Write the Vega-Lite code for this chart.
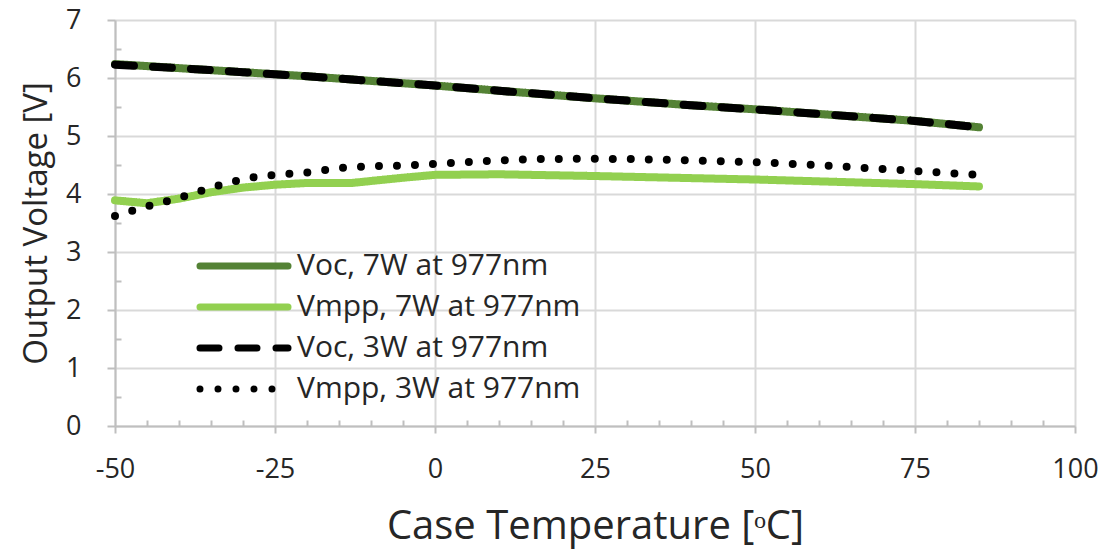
{
  "$schema": "https://vega.github.io/schema/vega-lite/v6.json",
  "width": 960,
  "height": 406,
  "autosize": {"type": "none"},
  "padding": {"left": 115, "top": 20, "right": 29, "bottom": 126},
  "background": "white",
  "config": {"view": {"stroke": null}, "font": "Open Sans"},
  "data": {
    "values": [
      {"series": "Voc, 7W at 977nm", "temp": -50, "v": 6.24},
      {"series": "Voc, 7W at 977nm", "temp": -40, "v": 6.17},
      {"series": "Voc, 7W at 977nm", "temp": -30, "v": 6.10},
      {"series": "Voc, 7W at 977nm", "temp": -20, "v": 6.03},
      {"series": "Voc, 7W at 977nm", "temp": -10, "v": 5.95},
      {"series": "Voc, 7W at 977nm", "temp": 0, "v": 5.87},
      {"series": "Voc, 7W at 977nm", "temp": 10, "v": 5.78},
      {"series": "Voc, 7W at 977nm", "temp": 25, "v": 5.65},
      {"series": "Voc, 7W at 977nm", "temp": 40, "v": 5.53},
      {"series": "Voc, 7W at 977nm", "temp": 50, "v": 5.46},
      {"series": "Voc, 7W at 977nm", "temp": 60, "v": 5.38},
      {"series": "Voc, 7W at 977nm", "temp": 75, "v": 5.26},
      {"series": "Voc, 7W at 977nm", "temp": 85, "v": 5.15},
      {"series": "Vmpp, 7W at 977nm", "temp": -50, "v": 3.89},
      {"series": "Vmpp, 7W at 977nm", "temp": -45, "v": 3.84},
      {"series": "Vmpp, 7W at 977nm", "temp": -40, "v": 3.92},
      {"series": "Vmpp, 7W at 977nm", "temp": -35, "v": 4.03},
      {"series": "Vmpp, 7W at 977nm", "temp": -30, "v": 4.11},
      {"series": "Vmpp, 7W at 977nm", "temp": -25, "v": 4.16},
      {"series": "Vmpp, 7W at 977nm", "temp": -20, "v": 4.19},
      {"series": "Vmpp, 7W at 977nm", "temp": -13, "v": 4.19},
      {"series": "Vmpp, 7W at 977nm", "temp": -5, "v": 4.28},
      {"series": "Vmpp, 7W at 977nm", "temp": 0, "v": 4.33},
      {"series": "Vmpp, 7W at 977nm", "temp": 10, "v": 4.34},
      {"series": "Vmpp, 7W at 977nm", "temp": 25, "v": 4.31},
      {"series": "Vmpp, 7W at 977nm", "temp": 50, "v": 4.25},
      {"series": "Vmpp, 7W at 977nm", "temp": 75, "v": 4.17},
      {"series": "Vmpp, 7W at 977nm", "temp": 85, "v": 4.13},
      {"series": "Voc, 3W at 977nm", "temp": -50, "v": 6.23},
      {"series": "Voc, 3W at 977nm", "temp": -40, "v": 6.17},
      {"series": "Voc, 3W at 977nm", "temp": -30, "v": 6.10},
      {"series": "Voc, 3W at 977nm", "temp": -20, "v": 6.03},
      {"series": "Voc, 3W at 977nm", "temp": -10, "v": 5.95},
      {"series": "Voc, 3W at 977nm", "temp": 0, "v": 5.87},
      {"series": "Voc, 3W at 977nm", "temp": 10, "v": 5.78},
      {"series": "Voc, 3W at 977nm", "temp": 25, "v": 5.65},
      {"series": "Voc, 3W at 977nm", "temp": 40, "v": 5.53},
      {"series": "Voc, 3W at 977nm", "temp": 50, "v": 5.46},
      {"series": "Voc, 3W at 977nm", "temp": 60, "v": 5.38},
      {"series": "Voc, 3W at 977nm", "temp": 75, "v": 5.26},
      {"series": "Voc, 3W at 977nm", "temp": 85, "v": 5.15},
      {"series": "Vmpp, 3W at 977nm", "temp": -50, "v": 3.62},
      {"series": "Vmpp, 3W at 977nm", "temp": -47, "v": 3.72},
      {"series": "Vmpp, 3W at 977nm", "temp": -44, "v": 3.82},
      {"series": "Vmpp, 3W at 977nm", "temp": -41, "v": 3.90},
      {"series": "Vmpp, 3W at 977nm", "temp": -38, "v": 4.00},
      {"series": "Vmpp, 3W at 977nm", "temp": -35, "v": 4.11},
      {"series": "Vmpp, 3W at 977nm", "temp": -32, "v": 4.20},
      {"series": "Vmpp, 3W at 977nm", "temp": -29, "v": 4.28},
      {"series": "Vmpp, 3W at 977nm", "temp": -26, "v": 4.32},
      {"series": "Vmpp, 3W at 977nm", "temp": -20, "v": 4.37},
      {"series": "Vmpp, 3W at 977nm", "temp": -15, "v": 4.45},
      {"series": "Vmpp, 3W at 977nm", "temp": -10, "v": 4.48},
      {"series": "Vmpp, 3W at 977nm", "temp": -5, "v": 4.49},
      {"series": "Vmpp, 3W at 977nm", "temp": 0, "v": 4.52},
      {"series": "Vmpp, 3W at 977nm", "temp": 5, "v": 4.55},
      {"series": "Vmpp, 3W at 977nm", "temp": 10, "v": 4.58},
      {"series": "Vmpp, 3W at 977nm", "temp": 15, "v": 4.60},
      {"series": "Vmpp, 3W at 977nm", "temp": 23, "v": 4.61},
      {"series": "Vmpp, 3W at 977nm", "temp": 32, "v": 4.60},
      {"series": "Vmpp, 3W at 977nm", "temp": 43, "v": 4.57},
      {"series": "Vmpp, 3W at 977nm", "temp": 52, "v": 4.54},
      {"series": "Vmpp, 3W at 977nm", "temp": 61, "v": 4.49},
      {"series": "Vmpp, 3W at 977nm", "temp": 70, "v": 4.43},
      {"series": "Vmpp, 3W at 977nm", "temp": 76, "v": 4.39},
      {"series": "Vmpp, 3W at 977nm", "temp": 85, "v": 4.33}
    ]
  },
  "mark": {"type": "line", "strokeWidth": 8, "strokeCap": "round", "strokeJoin": "round"},
  "encoding": {
    "x": {
      "field": "temp",
      "type": "quantitative",
      "scale": {"domain": [-50, 100], "nice": false, "zero": false},
      "axis": {
        "values": [-50, -45, -40, -35, -30, -25, -20, -15, -10, -5, 0, 5, 10, 15, 20, 25, 30, 35, 40, 45, 50, 55, 60, 65, 70, 75, 80, 85, 90, 95, 100],
        "labelExpr": "datum.value % 25 === 0 ? replace(datum.label, '\u2212', '-') : ''",
        "title": "Case Temperature [\u1d52C]",
        "titleFontSize": 40,
        "titleFontWeight": "normal",
        "titleColor": "#262626",
        "titlePadding": 24,
        "labelFontSize": 27,
        "labelColor": "#262626",
        "labelPadding": 23,
        "labelFlush": false,
        "domainColor": "#bfbfbf",
        "domainWidth": 2,
        "gridColor": "#d9d9d9",
        "gridWidth": 2,
        "gridOpacity": {"condition": {"test": "datum.value % 25 !== 0", "value": 0}, "value": 1},
        "tickColor": "#bfbfbf",
        "tickWidth": 2,
        "tickSize": {"condition": {"test": "datum.value % 25 !== 0", "value": -6}, "value": 7}
      }
    },
    "y": {
      "field": "v",
      "type": "quantitative",
      "scale": {"domain": [0, 7], "nice": false},
      "axis": {
        "values": [0, 0.5, 1, 1.5, 2, 2.5, 3, 3.5, 4, 4.5, 5, 5.5, 6, 6.5, 7],
        "labelExpr": "datum.value % 1 === 0 ? format(datum.value, 'd') : ''",
        "title": "Output Voltage [V]",
        "titleFontSize": 33,
        "titleFontWeight": "normal",
        "titleColor": "#262626",
        "titlePadding": 12,
        "labelFontSize": 27,
        "labelColor": "#262626",
        "labelPadding": 26,
        "labelFlush": false,
        "domainColor": "#bfbfbf",
        "domainWidth": 2,
        "gridColor": "#d9d9d9",
        "gridWidth": 2,
        "gridOpacity": {"condition": {"test": "datum.value % 1 !== 0", "value": 0}, "value": 1},
        "tickColor": "#bfbfbf",
        "tickWidth": 2,
        "tickSize": {"condition": {"test": "datum.value % 1 !== 0", "value": -6}, "value": 8}
      }
    },
    "color": {
      "field": "series",
      "type": "nominal",
      "scale": {
        "domain": ["Voc, 7W at 977nm", "Vmpp, 7W at 977nm", "Voc, 3W at 977nm", "Vmpp, 3W at 977nm"],
        "range": ["#548235", "#92d050", "#000000", "#000000"]
      },
      "legend": {
        "orient": "none",
        "legendX": 114,
        "legendY": 231,
        "title": null,
        "padding": 0,
        "symbolType": "M-5,0H5",
        "symbolSize": 310,
        "symbolStrokeWidth": 7,
        "labelFontSize": 30,
        "labelColor": "#262626",
        "labelOffset": 38,
        "rowPadding": 11,
        "labelLimit": 400,
        "encode": {"symbols": {"update": {"strokeCap": {"value": "round"}}}}
      }
    },
    "strokeDash": {
      "field": "series",
      "type": "nominal",
      "scale": {
        "domain": ["Voc, 7W at 977nm", "Vmpp, 7W at 977nm", "Voc, 3W at 977nm", "Vmpp, 3W at 977nm"],
        "range": [[1, 0], [1, 0], [19, 19], [0, 18]]
      }
    }
  }
}
